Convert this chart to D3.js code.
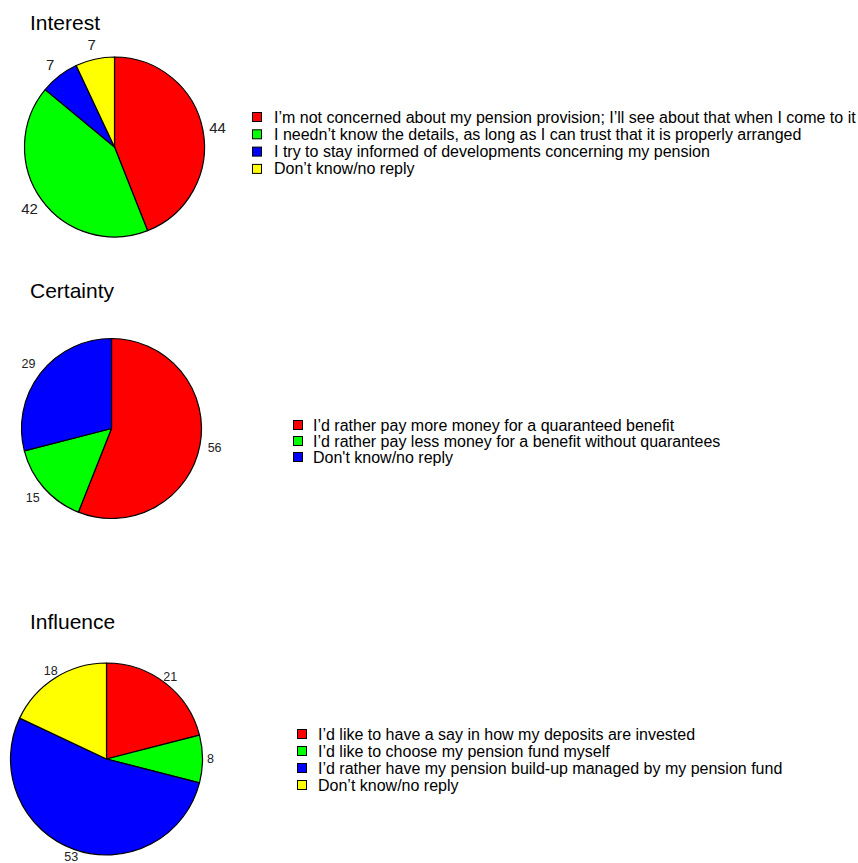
<!DOCTYPE html>
<html>
<head>
<meta charset="utf-8">
<script src="https://cdn.jsdelivr.net/npm/d3@7"></script>
<style>
  html, body { margin: 0; padding: 0; background: #fff; }
  svg { display: block; font-family: "Liberation Sans", Arial, sans-serif; }
</style>
</head>
<body>
<svg id="chart" width="858" height="863"></svg>
<script>
// ---- Data ----
const interestTitle = "Interest";
const interestCategories = [
  "I\u2019m not concerned about my pension provision; I\u2019ll see about that when I come to it",
  "I needn\u2019t know the details, as long as I can trust that it is properly arranged",
  "I try to stay informed of developments concerning my pension",
  "Don\u2019t know/no reply"
];
const interestValues = [44, 42, 7, 7];
const interestColors = ["#ff0000", "#00ff00", "#0000ff", "#ffff00"];

const certaintyTitle = "Certainty";
const certaintyCategories = [
  "I\u2019d rather pay more money for a quaranteed benefit",
  "I\u2019d rather pay less money for a benefit without quarantees",
  "Don't know/no reply"
];
const certaintyValues = [56, 15, 29];
const certaintyColors = ["#ff0000", "#00ff00", "#0000ff"];

const influenceTitle = "Influence";
const influenceCategories = [
  "I\u2019d like to have a say in how my deposits are invested",
  "I\u2019d like to choose my pension fund myself",
  "I\u2019d rather have my pension build-up managed by my pension fund",
  "Don\u2019t know/no reply"
];
const influenceValues = [21, 8, 53, 18];
const influenceColors = ["#ff0000", "#00ff00", "#0000ff", "#ffff00"];

// ---- Layout (styles/positions only) ----
const panels = [
  { title: interestTitle, cats: interestCategories, vals: interestValues, cols: interestColors,
    titleX: 30, titleY: 30, cx: 114.5, cy: 147, r: 90, labelR: 105, labelSize: 15,
    legX: 252, legY: 117, legStep: 17.3, textOff: 22 },
  { title: certaintyTitle, cats: certaintyCategories, vals: certaintyValues, cols: certaintyColors,
    titleX: 30, titleY: 298, cx: 111.5, cy: 428.5, r: 90, labelR: 105, labelSize: 12.5,
    legX: 293, legY: 425, legStep: 16, textOff: 20 },
  { title: influenceTitle, cats: influenceCategories, vals: influenceValues, cols: influenceColors,
    titleX: 30, titleY: 629, cx: 106.5, cy: 759, r: 96, labelR: 104, labelSize: 12.5,
    legX: 297, legY: 734, legStep: 17, textOff: 21 }
];

const svg = d3.select("#chart");
const pie = d3.pie().sort(null).value(d => d);

panels.forEach(p => {
  const g = svg.append("g");
  g.append("text")
    .attr("x", p.titleX).attr("y", p.titleY)
    .attr("font-size", 21).attr("fill", "#000")
    .text(p.title);

  const arcs = pie(p.vals);
  const arc = d3.arc().innerRadius(0).outerRadius(p.r);
  const pg = g.append("g").attr("transform", `translate(${p.cx},${p.cy})`);
  pg.selectAll("path").data(arcs).join("path")
    .attr("d", arc)
    .attr("fill", (d, i) => p.cols[i])
    .attr("stroke", "#000").attr("stroke-width", 1.2).attr("stroke-linejoin", "round");

  pg.selectAll("text.lbl").data(arcs).join("text")
    .attr("class", "lbl")
    .attr("x", d => p.labelR * Math.sin((d.startAngle + d.endAngle) / 2))
    .attr("y", d => -p.labelR * Math.cos((d.startAngle + d.endAngle) / 2))
    .attr("text-anchor", "middle").attr("dominant-baseline", "central")
    .attr("font-size", p.labelSize).attr("fill", "#222")
    .text(d => d.value);

  const lg = g.append("g");
  p.cats.forEach((c, i) => {
    const y = p.legY + i * p.legStep;
    lg.append("rect")
      .attr("x", p.legX + 0.5).attr("y", y - 4.5)
      .attr("width", 9).attr("height", 9)
      .attr("fill", p.cols[i]).attr("stroke", "#000").attr("stroke-width", 1);
    lg.append("text")
      .attr("x", p.legX + p.textOff).attr("y", y)
      .attr("dominant-baseline", "central")
      .attr("font-size", 16).attr("fill", "#000")
      .text(c);
  });
});
</script>
</body>
</html>
